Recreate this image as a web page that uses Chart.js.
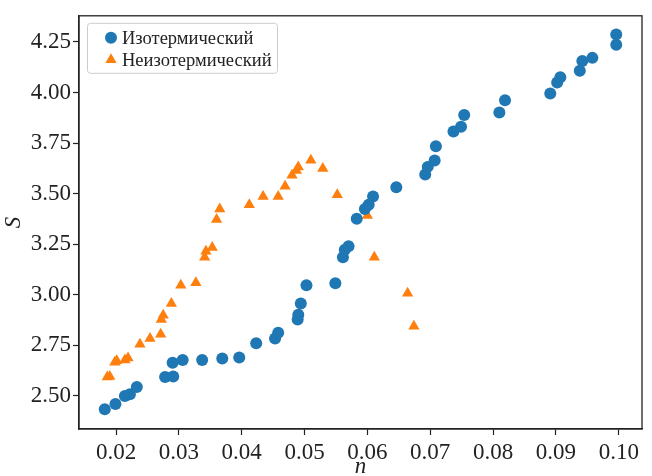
<!doctype html>
<html lang="ru">
<head>
<meta charset="utf-8">
<title>S(n)</title>
<style>
  html, body { margin: 0; padding: 0; background: #fff; }
  #wrap { width: 652px; height: 476px; }
</style>
</head>
<body>
<div id="wrap"><canvas id="chart" width="652" height="476"></canvas></div>
<script src="https://cdn.jsdelivr.net/npm/chart.js@4/dist/chart.umd.min.js"></script>
<script>
// values
const isoN = [0.0182, 0.0199, 0.0214, 0.0222, 0.0233, 0.0278, 0.0291, 0.0290, 0.0306, 0.0337,
  0.0369, 0.0396, 0.0423, 0.0453, 0.0458, 0.0489, 0.0490, 0.0494, 0.0503, 0.0549,
  0.0561, 0.0564, 0.0570, 0.0583, 0.0596, 0.0602, 0.0609, 0.0646, 0.0692, 0.0696,
  0.0707, 0.0709, 0.0737, 0.0749, 0.0754, 0.0810, 0.0819, 0.0891, 0.0902, 0.0907,
  0.0938, 0.0942, 0.0958, 0.0996, 0.0996];
const isoS = [2.434, 2.460, 2.499, 2.508, 2.544, 2.593, 2.596, 2.664, 2.677, 2.677,
  2.685, 2.690, 2.760, 2.784, 2.812, 2.877, 2.901, 2.956, 3.047, 3.057,
  3.185, 3.222, 3.239, 3.375, 3.424, 3.445, 3.486, 3.531, 3.594, 3.632,
  3.664, 3.734, 3.807, 3.830, 3.888, 3.901, 3.961, 3.995, 4.049, 4.075,
  4.107, 4.155, 4.171, 4.236, 4.286];

const nonIsoN = [0.0186, 0.0190, 0.0198, 0.0201, 0.0214, 0.0219, 0.0238, 0.0254, 0.0271, 0.0272,
  0.0275, 0.0288, 0.0303, 0.0327, 0.0341, 0.0343, 0.0353, 0.0360, 0.0365, 0.0412,
  0.0434, 0.0458, 0.0469, 0.0480, 0.0487, 0.0490, 0.0510, 0.0529, 0.0552, 0.0600,
  0.0611, 0.0664, 0.0674];
const nonIsoS = [2.593, 2.596, 2.666, 2.674, 2.677, 2.687, 2.755, 2.783, 2.805, 2.878,
  2.898, 2.956, 3.047, 3.059, 3.185, 3.215, 3.234, 3.372, 3.424, 3.445,
  3.486, 3.486, 3.536, 3.591, 3.614, 3.632, 3.665, 3.624, 3.494, 3.391,
  3.185, 3.007, 2.844];

const seriesNames = ['Изотермический', 'Неизотермический'];
const xTicks = [0.02, 0.03, 0.04, 0.05, 0.06, 0.07, 0.08, 0.09, 0.10];
const yTicks = [2.50, 2.75, 3.00, 3.25, 3.50, 3.75, 4.00, 4.25];

const ink = '#222222';
const serif = "'Liberation Serif', 'Times New Roman', Tinos, Times, serif";

function toPoints(xs, ys) {
  return xs.map((x, i) => ({ x: x, y: ys[i] }));
}

// box round the plot area, like matplotlib spines
const frame = {
  id: 'frame',
  afterDatasetsDraw(chart) {
    const a = chart.chartArea;
    const ctx = chart.ctx;
    ctx.save();
    ctx.strokeStyle = ink;
    ctx.lineWidth = 1.3;
    ctx.strokeRect(a.left, a.top, a.right - a.left, a.bottom - a.top);
    ctx.restore();
  }
};

// legend in the upper left corner inside the plot
const insideLegend = {
  id: 'insideLegend',
  afterDraw(chart) {
    const ctx = chart.ctx;
    const a = chart.chartArea;
    const x = a.left + 8, y = a.top + 7, w = 190, h = 50;
    ctx.save();
    ctx.fillStyle = 'rgba(255,255,255,0.8)';
    ctx.strokeStyle = '#cccccc';
    ctx.lineWidth = 1;
    ctx.beginPath();
    ctx.roundRect(x + 0.5, y + 0.5, w, h, 3);
    ctx.fill();
    ctx.stroke();
    ctx.font = '18.5px ' + serif;
    ctx.textBaseline = 'middle';
    chart.data.datasets.forEach((ds, i) => {
      const cy = y + 15 + i * 22;
      ctx.fillStyle = ds.backgroundColor;
      Chart.helpers.drawPoint(ctx, { pointStyle: ds.pointStyle, radius: ds.pointRadius, borderWidth: 0 }, x + 24, cy);
      ctx.fillStyle = ink;
      ctx.fillText(ds.label, x + 35, cy + 1);
    });
    ctx.restore();
  }
};

const config = {
  type: 'scatter',
  data: {
    datasets: [{
      label: seriesNames[0],
      data: toPoints(isoN, isoS),
      backgroundColor: '#1f77b4',
      pointStyle: 'circle',
      pointRadius: 6,
      pointHoverRadius: 6,
      borderWidth: 0
    }, {
      label: seriesNames[1],
      data: toPoints(nonIsoN, nonIsoS),
      backgroundColor: '#ff7f0e',
      pointStyle: 'triangle',
      pointRadius: 6.5,
      pointHoverRadius: 6.5,
      borderWidth: 0
    }]
  },
  options: {
    responsive: false,
    animation: false,
    devicePixelRatio: 1,
    layout: { padding: { top: 10, right: 10, left: 0, bottom: 0 } },
    plugins: {
      legend: { display: false },
      tooltip: { enabled: false }
    },
    scales: {
      x: {
        type: 'linear',
        min: 0.0141,
        max: 0.1037,
        afterBuildTicks: scale => { scale.ticks = xTicks.map(v => ({ value: v })); },
        afterFit: scale => { scale.height = 47; },
        grid: { drawOnChartArea: false, drawTicks: true, tickLength: 6, tickColor: ink, tickWidth: 1.2 },
        border: { display: true, color: ink, width: 1.3 },
        ticks: {
          color: ink,
          padding: 4,
          maxRotation: 0,
          font: { family: serif, size: 23 },
          callback: v => v.toFixed(2)
        },
        title: {
          display: true,
          text: 'n',
          color: ink,
          font: { family: serif, size: 23, style: 'italic', lineHeight: 1 },
          padding: { top: 0, bottom: -2 }
        }
      },
      y: {
        type: 'linear',
        min: 2.336,
        max: 4.379,
        afterBuildTicks: scale => { scale.ticks = yTicks.map(v => ({ value: v })); },
        afterFit: scale => { scale.width = 79; },
        grid: { drawOnChartArea: false, drawTicks: true, tickLength: 6, tickColor: ink, tickWidth: 1.2 },
        border: { display: true, color: ink, width: 1.3 },
        ticks: {
          color: ink,
          padding: 2,
          font: { family: serif, size: 23 },
          callback: v => v.toFixed(2)
        },
        title: {
          display: true,
          text: 'S',
          color: ink,
          font: { family: serif, size: 23, style: 'italic', lineHeight: 1.2 },
          padding: { top: 0, bottom: 0 }
        }
      }
    }
  },
  plugins: [frame, insideLegend]
};

const myChart = new Chart(document.getElementById('chart'), config);
</script>
</body>
</html>
